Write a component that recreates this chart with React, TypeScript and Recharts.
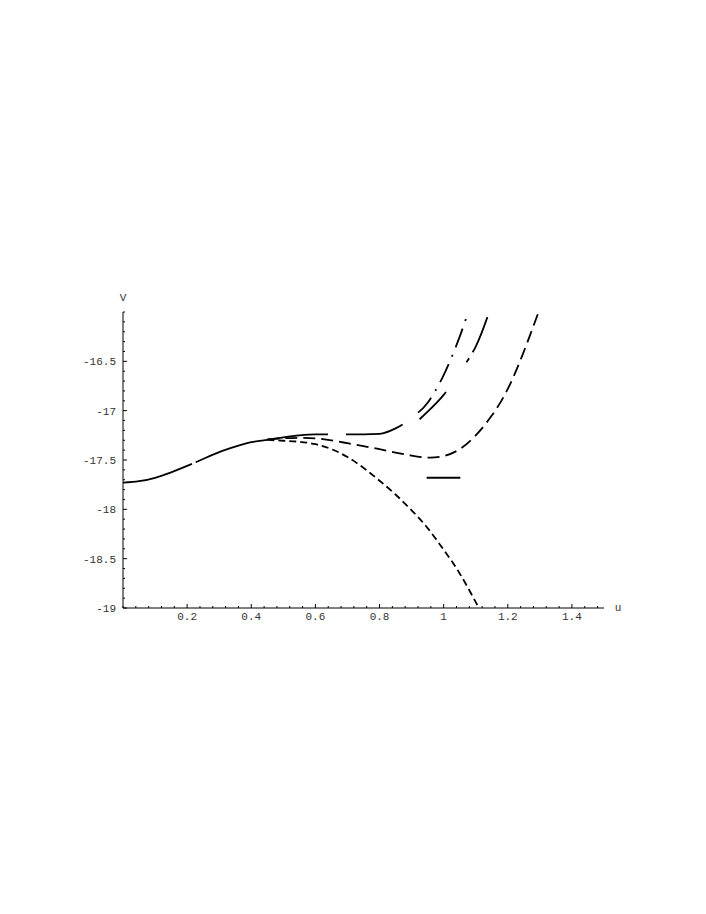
import { LineChart, Line, XAxis, YAxis } from 'recharts';

// values
const commonU = [0, 0.05, 0.1, 0.15, 0.2, 0.25, 0.3, 0.35, 0.4, 0.45];
const commonV = [-17.73, -17.715, -17.68, -17.625, -17.56, -17.49, -17.42, -17.365, -17.32, -17.295];

const upperU = [0.45, 0.5, 0.55, 0.6, 0.65, 0.7, 0.75, 0.8, 0.85, 0.872];
const upperV = [-17.295, -17.27, -17.25, -17.24, -17.24, -17.24, -17.24, -17.235, -17.18, -17.14];

const dashDotU = [0.92, 0.95, 1.0, 1.05, 1.076];
const dashDotV = [-17.02, -16.92, -16.64, -16.25, -16.0];

const longDashU = [0.925, 0.95, 1.0, 1.05, 1.1, 1.142];
const longDashV = [-17.087, -17.01, -16.84, -16.61, -16.35, -16.0];

const midDashU = [0.45, 0.5, 0.55, 0.6, 0.65, 0.7, 0.75, 0.8, 0.85, 0.9, 0.95, 1.0, 1.05, 1.1, 1.15, 1.2, 1.25, 1.296];
const midDashV = [-17.29, -17.28, -17.275, -17.28, -17.3, -17.33, -17.36, -17.39, -17.425, -17.455, -17.475, -17.46, -17.39, -17.25, -17.05, -16.78, -16.4, -16.0];

const shortDashU = [0.45, 0.5, 0.55, 0.6, 0.65, 0.7, 0.75, 0.8, 0.85, 0.9, 0.95, 1.0, 1.05, 1.1, 1.11];
const shortDashV = [-17.295, -17.305, -17.315, -17.34, -17.39, -17.47, -17.58, -17.71, -17.85, -18.01, -18.19, -18.41, -18.65, -18.94, -19.0];

const segU = [0.947, 1.052];
const segV = [-17.68, -17.68];

const xLabels = [0.2, 0.4, 0.6, 0.8, 1, 1.2, 1.4];
const yLabels = [-19, -18.5, -18, -17.5, -17, -16.5];

const toPoints = (us: number[], vs: number[]) => us.map((u, i) => ({ u, v: vs[i] }));

// minor ticks: every 0.04 on u, every 0.1 on V
const xTicks: number[] = [];
for (let i = 0; i <= 37; i++) xTicks.push(Math.round(i * 0.04 * 100) / 100);
const yTicks: number[] = [];
for (let i = 0; i <= 30; i++) yTicks.push(Math.round((-19 + i * 0.1) * 10) / 10);

const FONT = '"Liberation Mono", "DejaVu Sans Mono", monospace';

const isMajor = (val: number, majors: number[]) => majors.some((m) => Math.abs(m - val) < 1e-6);

const XTick = (props: any) => {
  const { x, y, payload } = props;
  const major = isMajor(payload.value, xLabels);
  return (
    <g>
      <line x1={x} y1={y} x2={x} y2={y - (major ? 4 : 2)} stroke="#000" strokeWidth={1} />
      {major && (
        <text x={x} y={y + 12} textAnchor="middle" fontSize={11} fontFamily={FONT} fill="#333">
          {String(payload.value)}
        </text>
      )}
    </g>
  );
};

const YTick = (props: any) => {
  const { x, y, payload } = props;
  const major = isMajor(payload.value, yLabels);
  return (
    <g>
      <line x1={x} y1={y} x2={x + (major ? 4 : 2)} y2={y} stroke="#000" strokeWidth={1} />
      {major && (
        <text x={x - 7} y={y + 4} textAnchor="end" fontSize={11} fontFamily={FONT} fill="#333">
          {String(payload.value)}
        </text>
      )}
    </g>
  );
};

const AxisName = (props: any) => {
  const { viewBox, text, kind } = props;
  if (!viewBox) return null;
  const tx = kind === 'y' ? viewBox.x + viewBox.width : viewBox.x + viewBox.width + 14;
  const ty = kind === 'y' ? viewBox.y - 11 : viewBox.y + 3;
  return (
    <text x={tx} y={ty} textAnchor="middle" fontSize={11} fontFamily={FONT} fill="#333">
      {text}
    </text>
  );
};

const App = () => {
  return (
    <div style={{ position: 'absolute', left: 0, top: 0, width: 706, height: 914, background: '#fff' }}>
      <LineChart width={706} height={914} margin={{ top: 312, right: 102, bottom: 276, left: 63 }}>
        <XAxis
          type="number"
          dataKey="u"
          domain={[0, 1.5]}
          ticks={xTicks}
          interval={0}
          height={30}
          tickSize={0}
          tickMargin={0}
          tickLine={false}
          axisLine={{ stroke: '#000', strokeWidth: 1 }}
          tick={<XTick />}
          allowDataOverflow
          label={<AxisName text="u" kind="x" />}
        />
        <YAxis
          type="number"
          dataKey="v"
          domain={[-19, -16]}
          ticks={yTicks}
          interval={0}
          width={60}
          tickSize={0}
          tickMargin={0}
          tickLine={false}
          axisLine={{ stroke: '#000', strokeWidth: 1 }}
          tick={<YTick />}
          allowDataOverflow
          label={<AxisName text="V" kind="y" />}
        />
        <Line data={toPoints(shortDashU, shortDashV)} dataKey="v" type="natural" stroke="#000" strokeWidth={1.8} strokeDasharray="7 4" dot={false} isAnimationActive={false} />
        <Line data={toPoints(midDashU, midDashV)} dataKey="v" type="natural" stroke="#000" strokeWidth={1.8} strokeDasharray="12 6" dot={false} isAnimationActive={false} />
        <Line data={toPoints(upperU, upperV)} dataKey="v" type="monotone" stroke="#000" strokeWidth={1.8} strokeDasharray="61 18 1000" dot={false} isAnimationActive={false} />
        <Line data={toPoints(dashDotU, dashDotV)} dataKey="v" type="natural" stroke="#000" strokeWidth={1.8} strokeDasharray="20 8 2 8" dot={false} isAnimationActive={false} />
        <Line data={toPoints(longDashU, longDashV)} dataKey="v" type="natural" stroke="#000" strokeWidth={1.8} strokeDasharray="38 36 5 7" dot={false} isAnimationActive={false} />
        <Line data={toPoints(commonU, commonV)} dataKey="v" type="natural" stroke="#000" strokeWidth={1.8} strokeDasharray="72 4 1000" dot={false} isAnimationActive={false} />
        <Line data={toPoints(segU, segV)} dataKey="v" type="linear" stroke="#000" strokeWidth={1.8} dot={false} isAnimationActive={false} />
      </LineChart>
    </div>
  );
};

export default App;
